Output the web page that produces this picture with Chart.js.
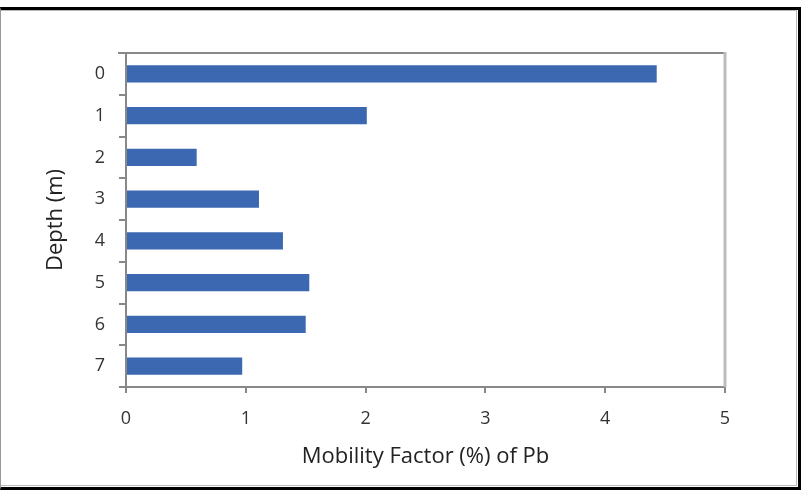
<!DOCTYPE html>
<html>
<head>
<meta charset="utf-8">
<script src="https://cdn.jsdelivr.net/npm/chart.js@4/dist/chart.umd.min.js"></script>
<style>
  html, body { margin: 0; padding: 0; background: #fff; }
  #frame {
    position: absolute; left: 0; top: 7px; width: 797px; height: 477px;
    border-top: 3px solid #000; border-right: 3px solid #000; border-bottom: 3px solid #000;
    border-left: 1px solid #999;
  }
  #inner { position: absolute; left: 0; top: 0; right: 1px; bottom: 1px; border: 1px solid #bbb; border-left: none; }
  #wrap { position: absolute; left: 0; top: 0; width: 803px; height: 496px; }
</style>
</head>
<body>
<div id="frame"><div id="inner"></div></div>
<div id="wrap"><canvas id="chartBar" width="803" height="496"></canvas></div>
<script>
// dados
const depths = ['0', '1', '2', '3', '4', '5', '6', '7'];
const mobility = [4.43, 2.01, 0.59, 1.11, 1.31, 1.53, 1.50, 0.97];
const xTicks = [0, 1, 2, 3, 4, 5];

// borda superior e direita da área do gráfico
const plotBorder = {
    id: 'plotBorder',
    afterDraw(chart) {
        const { ctx, chartArea: a } = chart;
        ctx.save();
        ctx.strokeStyle = '#888';
        ctx.lineWidth = 2;
        ctx.beginPath();
        ctx.moveTo(a.left - 8, a.top);
        ctx.lineTo(a.right, a.top);
        ctx.stroke();
        ctx.strokeStyle = '#bbb';
        ctx.lineWidth = 3;
        ctx.beginPath();
        ctx.moveTo(a.right, a.top - 1);
        ctx.lineTo(a.right, a.bottom);
        ctx.stroke();
        ctx.restore();
    }
};

const fontFam = '"Open Sans", Lato, sans-serif';

new Chart(document.getElementById('chartBar'), {
    type: 'bar',
    data: {
        labels: depths,
        datasets: [{
            data: mobility,
            backgroundColor: '#3b68b0',
            borderWidth: 0,
            categoryPercentage: 1,
            barPercentage: 0.41
        }]
    },
    options: {
        indexAxis: 'y',
        responsive: false,
        animation: false,
        devicePixelRatio: 1,
        layout: { padding: { left: 33, top: 53, right: 78, bottom: 26 } },
        plugins: { legend: { display: false }, tooltip: { enabled: false } },
        scales: {
            x: {
                min: 0, max: 5,
                afterBuildTicks: (s) => { s.ticks = xTicks.map(v => ({ value: v })); },
                afterFit: (s) => { s.height = 83; },
                grid: { drawOnChartArea: false, drawTicks: true, tickLength: 6, color: '#888', lineWidth: 2 },
                border: { color: '#888', width: 2 },
                ticks: { color: '#333', font: { family: fontFam, size: 18 }, padding: 15 },
                title: { display: true, text: 'Mobility Factor (%) of Pb', color: '#222',
                         font: { family: fontFam, size: 22 }, padding: { top: 0, bottom: 0 } }
            },
            y: {
                afterFit: (s) => { s.width = 93; },
                grid: { offset: true, drawOnChartArea: false, drawTicks: true, tickLength: 7, color: '#888', lineWidth: 2 },
                border: { color: '#888', width: 2 },
                ticks: { color: '#333', font: { family: fontFam, size: 18 }, padding: 14 },
                title: { display: true, text: 'Depth (m)', color: '#222',
                         font: { family: fontFam, size: 22 }, padding: { top: 10, bottom: 0 } }
            }
        }
    },
    plugins: [plotBorder]
});
</script>
</body>
</html>
